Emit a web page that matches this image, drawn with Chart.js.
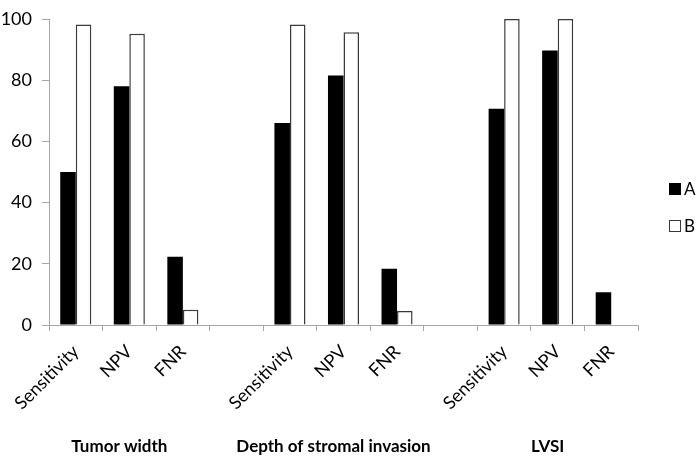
<!DOCTYPE html>
<html>
<head>
<meta charset="utf-8">
<script src="https://cdn.jsdelivr.net/npm/chart.js@4"></script>
<style>
  html, body { margin: 0; padding: 0; background: #fff; }
  #wrap { width: 700px; height: 459px; }
</style>
</head>
<body>
<div id="wrap"><canvas id="chart" width="700" height="459"></canvas></div>
<script>
// categories (empty strings are the gaps between groups)
const labels = ['Sensitivity', 'NPV', 'FNR', '', 'Sensitivity', 'NPV', 'FNR', '', 'Sensitivity', 'NPV', 'FNR'];
const groups = ['Tumor width', 'Depth of stromal invasion', 'LVSI'];
const groupCenters = [1, 5, 9]; // index of the middle category of each group

const valuesA = [50, 78, 22.3, null, 66, 81.5, 18.4, null, 70.7, 89.7, 10.7];
const valuesB = [98.2, 95.2, 5, null, 98.2, 95.7, 4.6, null, 100, 100, 0];

const yTicks = [0, 20, 40, 60, 80, 100];

const FONT = 'Lato, "Open Sans", sans-serif';

// draws group names under the rotated labels + the legend on the right
const extras = {
    id: 'extras',
    afterDraw(chart) {
        const c = chart.ctx;
        const x = chart.scales.x;
        c.save();
        c.fillStyle = '#000';
        c.textAlign = 'center';
        c.textBaseline = 'middle';
        c.font = 'bold 17px ' + FONT;
        groups.forEach((g, i) => {
            c.fillText(g, x.getPixelForValue(groupCenters[i]) - 10, 447);
        });

        // legend
        c.font = '17px ' + FONT;
        c.textAlign = 'left';
        chart.data.datasets.forEach((ds, i) => {
            const top = 183 + i * 37;
            c.fillStyle = ds.backgroundColor;
            c.fillRect(669, top, 12, 12);
            if (ds.borderWidth) {
                c.strokeStyle = ds.borderColor;
                c.lineWidth = 1;
                c.strokeRect(669.5, top + 0.5, 11, 11);
            }
            c.fillStyle = '#000';
            c.fillText(ds.label, 684, top + 6.5);
        });
        c.restore();
    }
};

new Chart(document.getElementById('chart').getContext('2d'), {
    type: 'bar',
    data: {
        labels: labels,
        datasets: [
            {
                label: 'A',
                data: valuesA,
                backgroundColor: '#000000',
                borderWidth: 0
            },
            {
                label: 'B',
                data: valuesB,
                backgroundColor: '#ffffff',
                borderColor: '#3a3a3a',
                borderWidth: 1.5,
                borderSkipped: 'bottom'
            }
        ]
    },
    options: {
        responsive: false,
        animation: false,
        devicePixelRatio: 1,
        categoryPercentage: 0.58,
        barPercentage: 1.0,
        layout: { padding: { left: 0, right: 62, top: 8, bottom: 46 } },
        plugins: {
            legend: { display: false },
            tooltip: { enabled: false }
        },
        scales: {
            x: {
                grid: {
                    drawOnChartArea: false,
                    color: '#a6a6a6',
                    tickLength: 6,
                    offset: true
                },
                border: { color: '#a6a6a6' },
                ticks: {
                    color: '#000',
                    font: { family: FONT, size: 18 },
                    minRotation: 45,
                    maxRotation: 45,
                    autoSkip: false,
                    padding: 10
                },
                afterFit(scale) { scale.height = 88; }
            },
            y: {
                min: 0,
                max: 100,
                afterBuildTicks(scale) { scale.ticks = yTicks.map(v => ({ value: v })); },
                grid: {
                    drawOnChartArea: false,
                    color: '#a6a6a6',
                    tickLength: 7
                },
                border: { color: '#a6a6a6' },
                ticks: {
                    color: '#000',
                    font: { family: FONT, size: 18, lineHeight: 1 },
                    padding: 10
                },
                afterFit(scale) { scale.width = 49; }
            }
        }
    },
    plugins: [extras]
});
</script>
</body>
</html>
